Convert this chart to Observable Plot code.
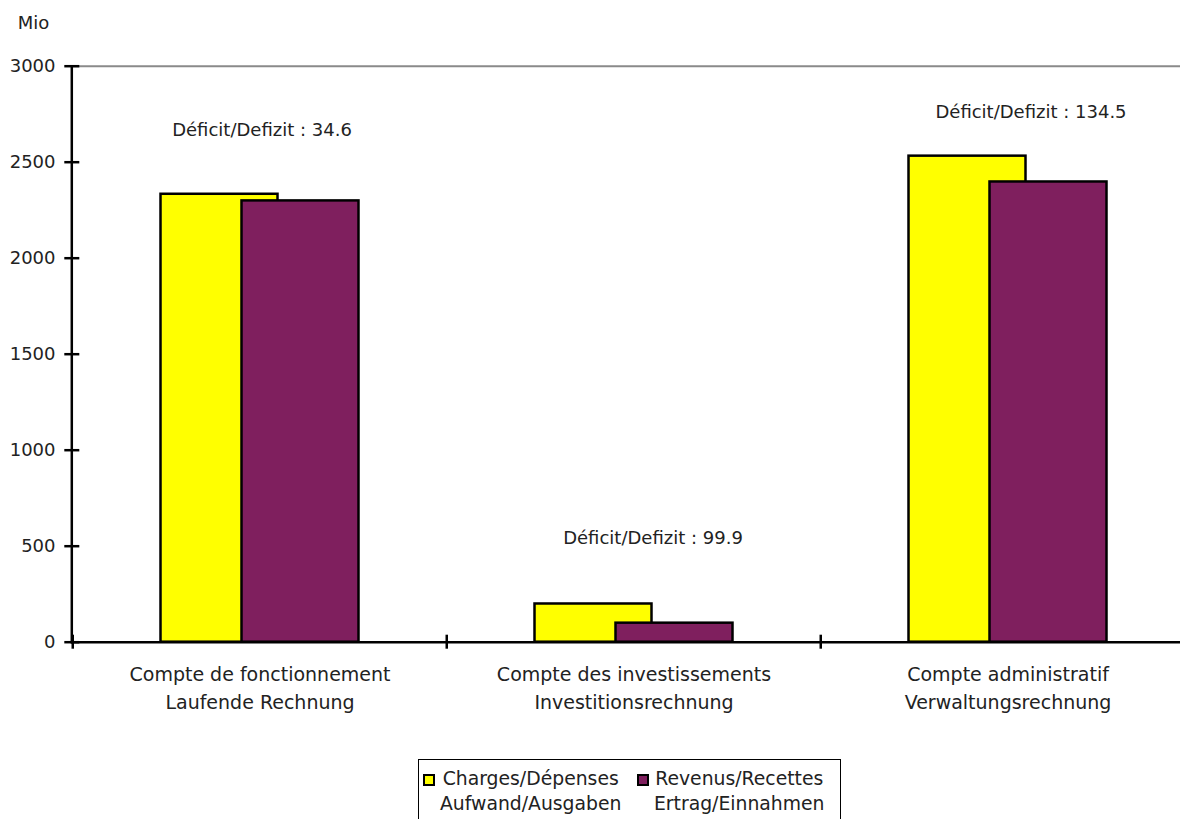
<!DOCTYPE html>
<html>
<head>
<meta charset="utf-8">
<script src="https://cdn.jsdelivr.net/npm/d3@7"></script>
<script src="https://cdn.jsdelivr.net/npm/@observablehq/plot@0.6"></script>
<style>
  body { margin: 0; background: #fff; }
  #chart { position: relative; width: 1180px; height: 819px; overflow: hidden;
           font-family: "DejaVu Sans", sans-serif; color: #222; }
  #chart svg { display: block; }
  .legend { position: absolute; left: 418px; top: 759px; width: 423px; height: 80px;
            border: 1px solid #000; box-sizing: border-box; display: flex;
            padding: 6px 0 0 4px; font-size: 18.8px; line-height: 25px; }
  .legend .item { display: flex; align-items: flex-start; }
  .legend .item:first-child { width: 214px; }
  .legend .swatch { width: 12px; height: 12px; border: 2px solid #000; box-sizing: border-box;
                    margin: 8px 5px 0 0; flex: none; }
  .legend .label { text-align: center; white-space: pre; }
</style>
</head>
<body>
<div id="chart"></div>
<script>
// Accounts (two-line bilingual labels)
const categories = [
  "Compte de fonctionnement\nLaufende Rechnung",
  "Compte des investissements\nInvestitionsrechnung",
  "Compte administratif\nVerwaltungsrechnung"
];
// Millions
const charges  = [2333.0, 199.0, 2531.5];
const revenues = [2298.4, 99.1, 2397.0];
const seriesNames = ["Charges/Dépenses\nAufwand/Ausgaben", "Revenus/Recettes\nErtrag/Einnahmen"];
const yTicks = [0, 500, 1000, 1500, 2000, 2500, 3000];

const seriesColors = ["#ffff00", "#7f1f5e"];
const deficits = charges.map((c, i) => c - revenues[i]);

// where each deficit note sits (value units) and its horizontal nudge (px)
const noteY  = [2665, 540, 2760];
const noteDx = [2, 19, 23];

const W = 1180, H = 750;
const mL = 71.3, mR = 0, mT = 65.7, mB = H - 641.7;
const xRange = [mL, 1194.8];
const step = (xRange[1] - xRange[0]) / categories.length;
const barOffset = 40.5;
const font = "DejaVu Sans, sans-serif";
const ink = "#222";

const marks = [
  // top boundary line
  Plot.ruleY([3000], {stroke: "#8a8a8a", strokeWidth: 2}),
  // bars
  Plot.barY(categories, {x: d => d, y: (d, i) => charges[i], fill: seriesColors[0],
    stroke: "#000", strokeWidth: 2.5, dx: -barOffset}),
  Plot.barY(categories, {x: d => d, y: (d, i) => revenues[i], fill: seriesColors[1],
    stroke: "#000", strokeWidth: 2.5, dx: barOffset}),
  // axes lines
  Plot.ruleY([0], {stroke: "#000", strokeWidth: 2.5}),
  Plot.frame({anchor: "left", stroke: "#000", strokeWidth: 2.5}),
  // crossing y ticks
  Plot.ruleY(yTicks, {stroke: "#000", strokeWidth: 2.5, insetLeft: -7, insetRight: (W - mL - mR) - 8}),
  // crossing ticks at category boundaries
  Plot.ruleX(categories, {x: d => d, y1: 0, y2: 0, dx: -step / 2, insetTop: 7, insetBottom: 7,
    stroke: "#000", strokeWidth: 2.5}),
  // y tick labels
  Plot.text(yTicks, {y: d => d, text: d => String(d), frameAnchor: "left", textAnchor: "end",
    dx: -16.3, fontSize: 18, fill: ink, fontFamily: font}),
  // category labels
  Plot.text(categories, {x: d => d, text: d => d, frameAnchor: "bottom", lineAnchor: "top",
    dy: 19, lineHeight: 1.48, fontSize: 19, fill: ink, fontFamily: font}),
  // unit
  Plot.text(["Mio"], {frameAnchor: "top-left", textAnchor: "start", lineAnchor: "middle",
    dx: 17.3 - mL, dy: 22.5 - mT, fontSize: 18, fill: ink, fontFamily: font}),
  // deficit notes
  ...categories.map((c, i) => Plot.text([i], {x: () => c, y: () => noteY[i],
    text: () => "Déficit/Defizit : " + deficits[i].toFixed(1), dx: noteDx[i],
    fontSize: 18, fill: ink, fontFamily: font}))
];

const chart = Plot.plot({
  width: W, height: H,
  marginLeft: mL, marginRight: mR, marginTop: mT, marginBottom: mB,
  x: {domain: categories, range: xRange, paddingInner: 0.6876, paddingOuter: 0.3438, axis: null},
  y: {domain: [0, 3000], axis: null},
  style: {background: "#fff", overflow: "visible"},
  marks
});

const root = document.getElementById("chart");
root.appendChild(chart);

// legend box under the chart
const legend = d3.select(root).append("div").attr("class", "legend");
const items = legend.selectAll(".item").data(seriesNames).join("div").attr("class", "item");
items.append("div").attr("class", "swatch").style("background", (d, i) => seriesColors[i]);
items.append("div").attr("class", "label").text(d => d);
</script>
</body>
</html>
